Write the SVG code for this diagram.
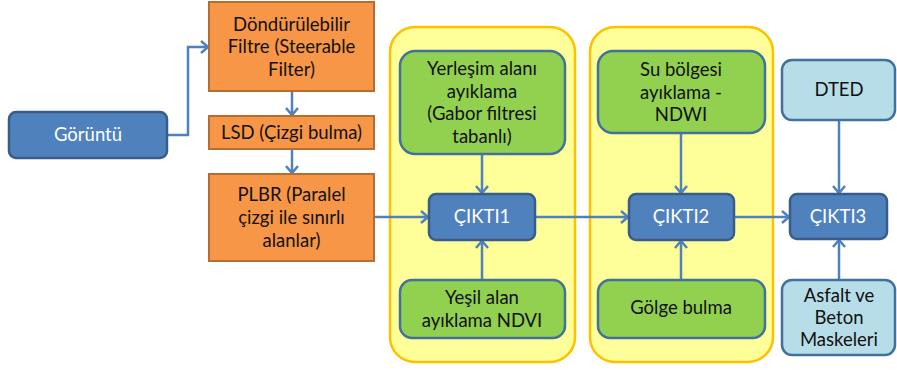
<svg xmlns="http://www.w3.org/2000/svg" width="897" height="370" viewBox="0 0 897 370">
<style>
text{font-family:Lato,"Open Sans","Liberation Sans",sans-serif;font-size:18.5px;text-anchor:middle;fill:#111}
.w{fill:#fff}
.or{fill:#F79646;stroke:#B66D31;stroke-width:2}
.bl{fill:#4F81BD;stroke:#385D8A;stroke-width:2.5}
.gr{fill:#92D050;stroke:#41719C;stroke-width:2.5}
.lb{fill:#B7DEE8;stroke:#41719C;stroke-width:2.5}
.ye{fill:#FFFF99;stroke:#FFC000;stroke-width:2.5}
.c{fill:none;stroke:#4F81BD;stroke-width:2.5;marker-end:url(#ah)}
</style>
<defs>
<marker id="ah" markerUnits="userSpaceOnUse" markerWidth="14" markerHeight="16" refX="10" refY="7" orient="auto">
<path d="M3,1 L10,7 L3,13" fill="none" stroke="#4F81BD" stroke-width="2.5"/>
</marker>
</defs>
<rect width="897" height="370" fill="#fff"/>
<g id="group1"><rect class="ye" x="390" y="27" width="185" height="335" rx="25"/></g>
<g id="group2"><rect class="ye" x="590" y="27" width="183" height="335" rx="25"/></g>
<g id="connectors">
<path class="c" d="M167,135 H188 V47 H208"/>
<path class="c" d="M292,91 V115"/>
<path class="c" d="M292,149 V173"/>
<path class="c" d="M374,217 H428"/>
<path class="c" d="M482,154 V193"/>
<path class="c" d="M482,280 V241"/>
<path class="c" d="M535,217 H628"/>
<path class="c" d="M681,133 V193"/>
<path class="c" d="M681,280 V241"/>
<path class="c" d="M734,217 H789"/>
<path class="c" d="M839,120 V193"/>
<path class="c" d="M839,280 V240"/>
</g>
<g id="goruntu"><rect class="bl" x="9" y="112" width="158" height="46" rx="7"/><text class="w" x="88" y="141">Görüntü</text></g>
<g id="filtre"><rect class="or" x="209" y="2" width="165" height="89"/>
<text x="291.5" y="31">Döndürülebilir</text><text x="291.5" y="53">Filtre (Steerable</text><text x="291.5" y="76">Filter)</text></g>
<g id="lsd"><rect class="or" x="209" y="116" width="165" height="33"/><text x="291.5" y="138.5">LSD (Çizgi bulma)</text></g>
<g id="plbr"><rect class="or" x="209" y="174" width="165" height="87"/>
<text x="291.5" y="201">PLBR (Paralel</text><text x="291.5" y="224">çizgi ile sınırlı</text><text x="291.5" y="247">alanlar)</text></g>
<g id="yerlesim"><rect class="gr" x="400" y="51" width="165" height="103" rx="15"/>
<text x="482" y="75">Yerleşim alanı</text><text x="482" y="98">ayıklama</text><text x="482" y="120">(Gabor filtresi</text><text x="482" y="143">tabanlı)</text></g>
<g id="cikti1"><rect class="bl" x="429" y="194" width="106" height="46" rx="7"/><text class="w" x="482" y="223">ÇIKTI1</text></g>
<g id="yesil"><rect class="gr" x="400" y="280" width="165" height="58" rx="12"/>
<text x="482" y="304">Yeşil alan</text><text x="482" y="327">ayıklama NDVI</text></g>
<g id="su"><rect class="gr" x="598" y="51" width="167" height="82" rx="15"/>
<text x="681" y="76">Su bölgesi</text><text x="681" y="99">ayıklama -</text><text x="681" y="121">NDWI</text></g>
<g id="cikti2"><rect class="bl" x="629" y="194" width="105" height="46" rx="7"/><text class="w" x="681" y="223">ÇIKTI2</text></g>
<g id="golge"><rect class="gr" x="598" y="280" width="167" height="58" rx="12"/><text x="681" y="314">Gölge bulma</text></g>
<g id="dted"><rect class="lb" x="782" y="60" width="113" height="60" rx="10"/><text x="839" y="96">DTED</text></g>
<g id="cikti3"><rect class="bl" x="790" y="194" width="97" height="45" rx="7"/><text class="w" x="838" y="223">ÇIKTI3</text></g>
<g id="asfalt"><rect class="lb" x="782" y="280" width="113" height="75" rx="10"/>
<text x="839" y="302">Asfalt ve</text><text x="839" y="324">Beton</text><text x="839" y="346">Maskeleri</text></g>
</svg>
